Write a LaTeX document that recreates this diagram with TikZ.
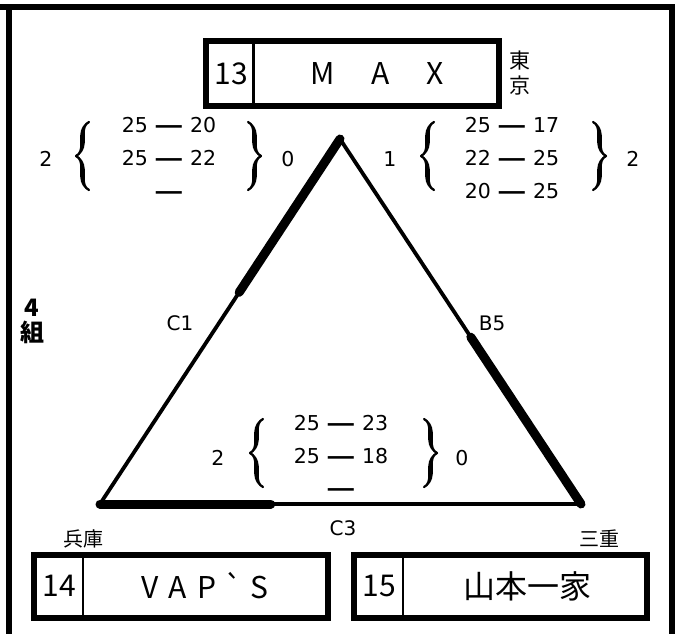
\documentclass[tikz,border=0pt]{standalone}
\usepackage{fontspec}
\usetikzlibrary{calc,decorations.pathreplacing,calligraphy}
\setmainfont{Noto Sans CJK JP}
\newfontfamily\scfont{DejaVu Sans}
\newcommand{\bardash}{\scalebox{1.27}[1]{\textbf{―}}}
\newcommand{\scrow}[2]{#1\hspace{8pt}\bardash\hspace{8pt}#2}
\newcommand{\gravemark}{{\addfontfeatures{Ligatures=TeXOff}\symbol{96}}}
\begin{document}
\begin{tikzpicture}[x=1pt,y=-1pt,
  frameline/.style={line width=6pt},
  teambox/.style={draw, line width=6pt, inner sep=0pt},
  divline/.style={line width=2.5pt},
  boxtxt/.style={inner sep=0pt, font=\fontsize{30}{32}\selectfont},
  pref/.style={inner sep=0pt, font=\fontsize{20}{24}\selectfont},
  sc/.style={inner sep=0pt, anchor=base, font=\scfont\fontsize{20.5}{24}\selectfont},
  edgelbl/.style={inner sep=0pt, font=\scfont\fontsize{20}{22}\selectfont},
  lbrace/.style={decorate, decoration={calligraphic brace, amplitude=13pt}, line width=4.5pt},
  thinside/.style={line width=3.8pt, line join=round},
  thickside/.style={line width=9pt, line cap=round}]
\useasboundingbox (0,0) rectangle (680,634);
% outer frame
\draw[frameline] (0,7.5) -- (675,7.5);
\draw[frameline] (9,7.5) -- (9,634);
\draw[frameline] (672,7.5) -- (672,634);
% team boxes
\node[teambox, minimum width=293pt, minimum height=65pt] (topbox) at (352.5,73.5) {};
\draw[divline] (253.5,41) -- (253.5,106);
\node[boxtxt] (n13) at (231.5,73.5) {13};
\node[boxtxt] (max) at (377,73.5) {M\hspace{37pt}A\hspace{37pt}X};
\node[pref, align=center, font=\fontsize{21}{25}\selectfont] (tokyo) at (520,73.5) {東\\京};

\node[teambox, minimum width=294pt, minimum height=63pt] (lbox) at (181,586.5) {};
\draw[divline] (83,555) -- (83,618);
\node[boxtxt] (n14) at (59,586) {14};
\node[boxtxt] (vaps) at (205,586) {V\hspace{10pt}A\hspace{10pt}P\hspace{8pt}\gravemark\hspace{8pt}S};
\node[pref] (hyogo) at (83,539) {兵庫};

\node[teambox, minimum width=293pt, minimum height=63pt] (rbox) at (500.5,586.5) {};
\draw[divline] (403,555) -- (403,618);
\node[boxtxt] (n15) at (379,586) {15};
\node[boxtxt, font=\fontsize{32}{34}\selectfont] (yama) at (527,586) {山本一家};
\node[pref] (mie) at (599,539) {三重};

% triangle
\coordinate (A) at (340,139);
\coordinate (L) at (100,504);
\coordinate (R) at (581,504);
\draw[thinside] (A) -- (L) -- (R) -- cycle;
\draw[thickside] (A) -- ($(A)!0.42!(L)$);
\draw[thickside] (R) -- ($(R)!0.457!(A)$);
\draw[thickside] (L) -- ($(L)!0.355!(R)$);
\node[edgelbl] (c1) at (180,323) {C1};
\node[edgelbl] (b5) at (492,323) {B5};
\node[edgelbl] (c3) at (343,528) {C3};
\node[inner sep=0pt, font=\fontsize{24}{25}\selectfont\bfseries, align=center] (grp) at (32,321) {4\\組};

% score group left top
\node[sc] (ltl) at (46,166.5) {2};
\draw[lbrace] (89,190) -- (89,122);
\node[sc] (ltr1) at (169,132.5) {\scrow{25}{20}};
\node[sc] (ltr2) at (169,165.5) {\scrow{25}{22}};
\node[sc] (ltr3) at (169,198.5) {\bardash};
\draw[lbrace] (248,122) -- (248,190);
\node[sc] (ltr) at (288,166.5) {0};

% score group right top
\node[sc] (rtl) at (390,166.5) {1};
\draw[lbrace] (434,190) -- (434,122);
\node[sc] (rtr1) at (512,132.5) {\scrow{25}{17}};
\node[sc] (rtr2) at (512,165.5) {\scrow{22}{25}};
\node[sc] (rtr3) at (512,198.5) {\scrow{20}{25}};
\draw[lbrace] (593,122) -- (593,190);
\node[sc] (rtr) at (633,166.5) {2};

% score group bottom
\node[sc] (bl) at (218,465) {2};
\draw[lbrace] (263,487) -- (263,419);
\node[sc] (br1) at (341,430.5) {\scrow{25}{23}};
\node[sc] (br2) at (341,463.5) {\scrow{25}{18}};
\node[sc] (br3) at (341,495.5) {\bardash};
\draw[lbrace] (424,419) -- (424,487);
\node[sc] (brr) at (462,465) {0};
\end{tikzpicture}
\end{document}
